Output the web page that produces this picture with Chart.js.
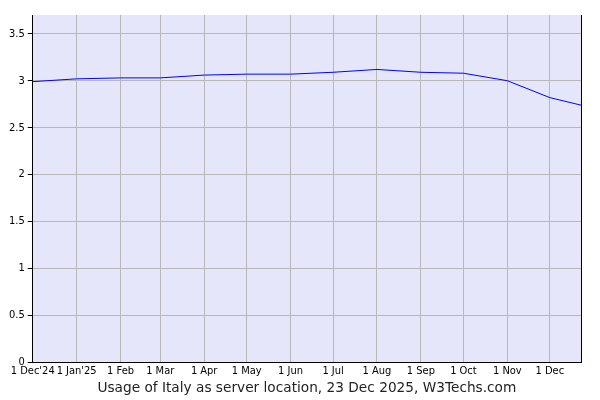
<!DOCTYPE html>
<html>
<head>
<meta charset="utf-8">
<script src="https://cdn.jsdelivr.net/npm/chart.js@4"></script>
<style>
  html, body { margin: 0; padding: 0; background: #fff; }
  #wrap { width: 600px; height: 400px; }
</style>
</head>
<body>
<div id="wrap"><canvas id="usageChart" width="600" height="400"></canvas></div>
<script>
// ===== DATA =====
// day offsets from 1 Dec 2024
var tickDays = [0, 31, 62, 90, 121, 151, 182, 212, 243, 274, 304, 335, 365];
var tickLabels = ["1 Dec'24", "1 Jan'25", "1 Feb", "1 Mar", "1 Apr", "1 May", "1 Jun", "1 Jul", "1 Aug", "1 Sep", "1 Oct", "1 Nov", "1 Dec"];
var pointDays = [0, 31, 62, 90, 121, 151, 182, 212, 243, 274, 304, 335, 365, 387];
var usage = [2.99, 3.02, 3.03, 3.03, 3.06, 3.07, 3.07, 3.09, 3.12, 3.09, 3.08, 3.00, 2.82, 2.74];
var yTicks = [0, 0.5, 1, 1.5, 2, 2.5, 3, 3.5];

var points = [];
for (var i = 0; i < pointDays.length; i++) {
    points.push({ x: pointDays[i], y: usage[i] });
}

// plot area background + center the title under the plot area
var bgPlugin = {
    id: "plotBg",
    afterLayout: function(chart) {
        if (chart.titleBlock) {
            chart.titleBlock.left = chart.chartArea.left;
            chart.titleBlock.right = chart.chartArea.right;
            chart.titleBlock.width = chart.chartArea.right - chart.chartArea.left;
        }
    },
    beforeDraw: function(chart) {
        var a = chart.chartArea;
        var ctx = chart.ctx;
        ctx.save();
        ctx.fillStyle = "#e6e6fa";
        ctx.fillRect(a.left, a.top, a.right - a.left, a.bottom - a.top);
        ctx.restore();
    }
};

var tickFont = { family: "DejaVu Sans Condensed", size: 11 };

new Chart(document.getElementById("usageChart"), {
    type: "line",
    data: {
        datasets: [{
            data: points,
            borderColor: "#0000ff",
            borderWidth: 1,
            pointRadius: 0,
            tension: 0,
            fill: false
        }]
    },
    options: {
        responsive: false,
        animation: false,
        layout: { padding: { top: 15, right: 19, left: 6, bottom: 0 } },
        plugins: {
            legend: { display: false },
            tooltip: { enabled: false },
            title: {
                display: true,
                position: "bottom",
                text: "Usage of Italy as server location, 23 Dec 2025, W3Techs.com",
                color: "#222",
                font: { family: "DejaVu Sans", size: 13.7, weight: "normal" },
                padding: { top: 1, bottom: 3 }
            }
        },
        scales: {
            x: {
                type: "linear",
                min: 0,
                max: 387,
                afterBuildTicks: function(axis) {
                    axis.ticks = tickDays.map(function(d) { return { value: d }; });
                },
                ticks: {
                    autoSkip: false,
                    maxRotation: 0,
                    color: "#000",
                    font: tickFont,
                    padding: 2,
                    callback: function(value) {
                        var idx = tickDays.indexOf(value);
                        return idx >= 0 ? tickLabels[idx] : "";
                    }
                },
                grid: { color: "#b8b8b8", drawTicks: false },
                border: { color: "#000", width: 1 }
            },
            y: {
                min: 0,
                max: 3.7,
                afterBuildTicks: function(axis) {
                    axis.ticks = yTicks.map(function(v) { return { value: v }; });
                },
                ticks: {
                    color: "#000",
                    font: tickFont,
                    padding: 3,
                    callback: function(value) { return String(value); }
                },
                grid: { color: "#b8b8b8", tickColor: "#000", tickLength: 5 },
                border: { color: "#000", width: 1 }
            },
            y2: {
                position: "right",
                min: 0,
                max: 3.7,
                ticks: { display: false },
                grid: { drawOnChartArea: false, drawTicks: false },
                border: { color: "#000", width: 1 }
            }
        }
    },
    plugins: [bgPlugin]
});
</script>
</body>
</html>
